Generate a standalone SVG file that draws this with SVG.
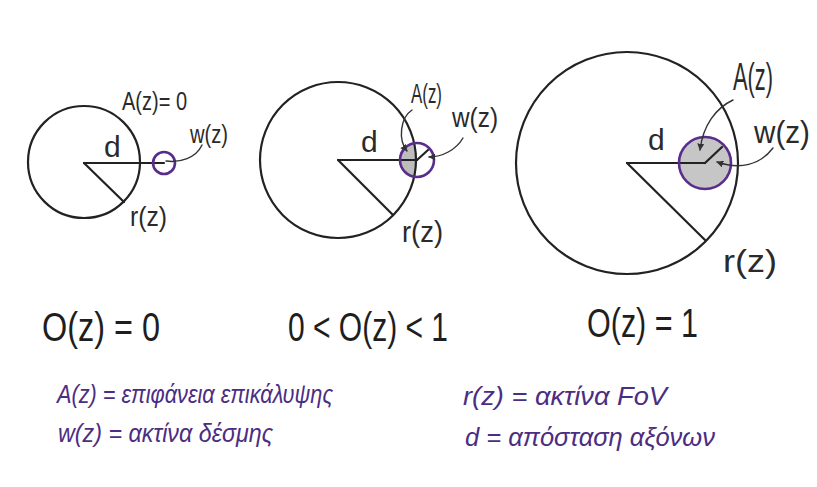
<svg xmlns="http://www.w3.org/2000/svg" width="817" height="487" viewBox="0 0 817 487">
<style>
.ln{fill:none;stroke:#222;stroke-width:2.2;stroke-linecap:round}
.bm{fill:none;stroke:#5a2d8c;stroke-width:2.6}
.ld{fill:none;stroke:#333;stroke-width:1.4;stroke-linecap:round}
.lb{font-family:"Liberation Sans","DejaVu Sans",sans-serif;fill:#2a2a2a}
.fm{font-family:"Liberation Sans","DejaVu Sans",sans-serif;fill:#1e1e1e;font-size:40px}
.lg{font-family:"Liberation Sans","DejaVu Sans",sans-serif;font-style:italic;fill:#4b2d83;font-size:26px}
</style>
<defs>
<marker id="ah" viewBox="0 0 10 10" refX="9" refY="5" markerWidth="5" markerHeight="5" orient="auto">
<path d="M0,0 L10,5 L0,10 z" fill="#333"/>
</marker>
<clipPath id="midBig"><circle cx="338" cy="160" r="78"/></clipPath>
</defs>
<rect width="817" height="487" fill="#fff"/>

<g id="node-left">
<circle class="ln" cx="84" cy="162" r="56"/>
<line class="ln" x1="84" y1="163" x2="164" y2="163"/>
<line class="ln" x1="84" y1="163" x2="124" y2="202"/>
<circle class="bm" cx="164" cy="163" r="11"/>
<text class="lb" x="104" y="157" font-size="30">d</text>
<text class="lb" x="122" y="110" font-size="26" textLength="65" lengthAdjust="spacingAndGlyphs">A(z)= 0</text>
<text class="lb" x="190" y="143" font-size="26" textLength="38" lengthAdjust="spacingAndGlyphs">w(z)</text>
<text class="lb" x="130" y="226" font-size="28" textLength="37" lengthAdjust="spacingAndGlyphs">r(z)</text>
</g>

<g id="node-middle">
<circle cx="417" cy="160" r="17" fill="#bdbdbd" clip-path="url(#midBig)"/>
<circle class="ln" cx="338" cy="160" r="78"/>
<line class="ln" x1="338" y1="160" x2="417" y2="160"/>
<line class="ln" x1="338" y1="160" x2="393" y2="215"/>
<line class="ln" x1="417" y1="160" x2="428" y2="150"/>
<circle class="bm" cx="417" cy="160" r="17"/>
<text class="lb" x="361" y="152" font-size="30">d</text>
<text class="lb" x="411" y="103" font-size="27" textLength="31" lengthAdjust="spacingAndGlyphs">A(z)</text>
<text class="lb" x="452" y="127" font-size="27" textLength="46" lengthAdjust="spacingAndGlyphs">w(z)</text>
<text class="lb" x="402" y="242" font-size="30" textLength="41" lengthAdjust="spacingAndGlyphs">r(z)</text>
</g>

<g id="node-right">
<circle class="ln" cx="627" cy="163" r="111"/>
<circle cx="705" cy="163" r="26" fill="#c6c6c6"/>
<line class="ln" x1="627" y1="163" x2="705" y2="163"/>
<line class="ln" x1="627" y1="163" x2="705" y2="240"/>
<line class="ln" x1="705" y1="163" x2="722" y2="147"/>
<circle class="bm" cx="705" cy="163" r="26"/>
<text class="lb" x="648" y="150" font-size="30">d</text>
<text class="lb" x="733" y="90" font-size="38" textLength="40" lengthAdjust="spacingAndGlyphs">A(z)</text>
<text class="lb" x="754" y="143" font-size="32" textLength="56" lengthAdjust="spacingAndGlyphs">w(z)</text>
<text class="lb" x="723" y="272" font-size="32" textLength="54" lengthAdjust="spacingAndGlyphs">r(z)</text>
</g>

<g id="connectors">
<path class="ld" d="M166,161 C180,163 196,158 202,145"/>
<path class="ld" d="M412,110 C400,118 398,140 407,151" marker-end="url(#ah)"/>
<path class="ld" d="M463,138 C456,150 442,157 429,157" marker-end="url(#ah)"/>
<path class="ld" d="M733,100 C716,108 703,125 700,150" marker-end="url(#ah)"/>
<path class="ld" d="M773,148 C760,165 740,170 717,162" marker-end="url(#ah)"/>
</g>

<g id="formulas">
<text class="fm" x="42" y="341" textLength="118" lengthAdjust="spacingAndGlyphs">O(z) = 0</text>
<text class="fm" x="288" y="341" textLength="160" lengthAdjust="spacingAndGlyphs">0 &lt; O(z) &lt; 1</text>
<text class="fm" x="587" y="337" textLength="111" lengthAdjust="spacingAndGlyphs">O(z) = 1</text>
</g>

<g id="legend">
<text class="lg" x="57" y="403" textLength="276" lengthAdjust="spacingAndGlyphs">A(z) = επιφάνεια επικάλυψης</text>
<text class="lg" x="58" y="442" textLength="215" lengthAdjust="spacingAndGlyphs">w(z) = ακτίνα δέσμης</text>
<text class="lg" x="463" y="405" textLength="204" lengthAdjust="spacingAndGlyphs">r(z) = ακτίνα FoV</text>
<text class="lg" x="465" y="446" textLength="250" lengthAdjust="spacingAndGlyphs">d = απόσταση αξόνων</text>
</g>
</svg>
